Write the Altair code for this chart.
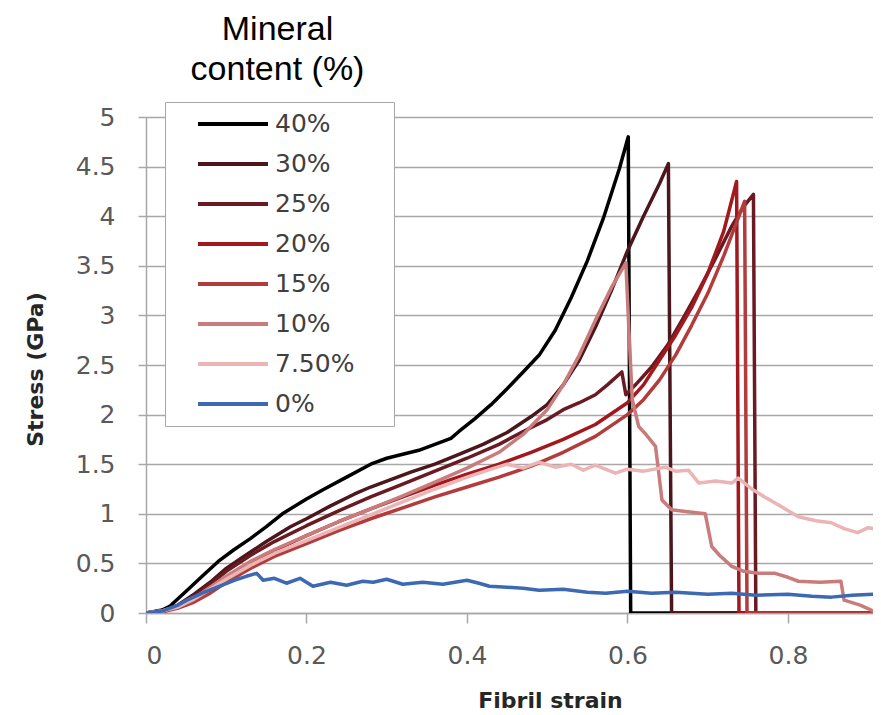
import altair as alt
import pandas as pd

series_names = ["40%", "30%", "25%", "20%", "15%", "10%", "7.50%", "0%"]
series_colors = ["#000000", "#4b161c", "#6a1a22", "#a3181c", "#b23b3b",
                 "#c97c7c", "#ecb4b4", "#3d68b2"]

strain_40 = [0, 0.02, 0.03, 0.05, 0.07, 0.09, 0.11, 0.13, 0.15, 0.17, 0.2, 0.22, 0.25,
             0.28, 0.3, 0.32, 0.34, 0.36, 0.37, 0.38, 0.39, 0.41, 0.43, 0.45, 0.47,
             0.49, 0.51, 0.53, 0.55, 0.57, 0.59, 0.601, 0.604, 0.91]
stress_40 = [0, 0.03, 0.07, 0.22, 0.37, 0.52, 0.64, 0.75, 0.87, 1.0, 1.15, 1.24, 1.37,
             1.5, 1.56, 1.6, 1.64, 1.7, 1.73, 1.76, 1.83, 1.96, 2.1, 2.26, 2.43,
             2.6, 2.85, 3.18, 3.55, 3.98, 4.48, 4.8, 0.0, 0.0]

strain_30 = [0, 0.02, 0.04, 0.06, 0.08, 0.1, 0.12, 0.15, 0.18, 0.2, 0.23, 0.26, 0.28,
             0.3, 0.33, 0.36, 0.39, 0.42, 0.45, 0.48, 0.5, 0.52, 0.54, 0.56, 0.58,
             0.6, 0.62, 0.64, 0.651, 0.655, 0.91]
stress_30 = [0, 0.02, 0.08, 0.19, 0.31, 0.45, 0.56, 0.72, 0.87, 0.95, 1.08, 1.2, 1.27,
             1.33, 1.42, 1.5, 1.6, 1.7, 1.82, 1.98, 2.1, 2.3, 2.55, 2.88, 3.25,
             3.65, 4.0, 4.33, 4.53, 0.0, 0.0]

strain_25 = [0, 0.02, 0.04, 0.06, 0.08, 0.1, 0.13, 0.16, 0.2, 0.24, 0.28, 0.32, 0.36,
             0.4, 0.44, 0.47, 0.5, 0.52, 0.54, 0.56, 0.575, 0.593, 0.598, 0.61, 0.63,
             0.65, 0.67, 0.69, 0.71, 0.73, 0.745, 0.757, 0.76, 0.91]
stress_25 = [0, 0.02, 0.07, 0.17, 0.29, 0.42, 0.58, 0.72, 0.88, 1.03, 1.17, 1.3, 1.43,
             1.56, 1.7, 1.83, 1.95, 2.05, 2.12, 2.2, 2.3, 2.43, 2.2, 2.3, 2.48,
             2.7, 2.98, 3.27, 3.58, 3.9, 4.1, 4.22, 0.0, 0.0]

strain_20 = [0, 0.02, 0.04, 0.06, 0.08, 0.1, 0.13, 0.16, 0.2, 0.24, 0.28, 0.32, 0.36,
             0.4, 0.44, 0.48, 0.52, 0.56, 0.6, 0.62, 0.64, 0.66, 0.68, 0.7, 0.72,
             0.736, 0.739, 0.91]
stress_20 = [0, 0.02, 0.06, 0.14, 0.24, 0.36, 0.5, 0.63, 0.78, 0.92, 1.05, 1.17, 1.29,
             1.4, 1.5, 1.62, 1.75, 1.9, 2.12, 2.3, 2.55, 2.8, 3.08, 3.42, 3.85,
             4.35, 0.0, 0.0]

strain_15 = [0, 0.02, 0.04, 0.06, 0.08, 0.1, 0.13, 0.16, 0.2, 0.24, 0.28, 0.32, 0.36,
             0.4, 0.44, 0.48, 0.52, 0.56, 0.6, 0.62, 0.64, 0.66, 0.68, 0.7, 0.72,
             0.746, 0.749, 0.91]
stress_15 = [0, 0.01, 0.05, 0.11, 0.2, 0.31, 0.45, 0.57, 0.7, 0.83, 0.95, 1.06, 1.17,
             1.27, 1.37, 1.48, 1.62, 1.78, 2.0, 2.15, 2.35, 2.6, 2.9, 3.22, 3.6,
             4.15, 0.0, 0.0]

strain_10 = [0, 0.02, 0.04, 0.06, 0.08, 0.1, 0.13, 0.16, 0.2, 0.24, 0.28, 0.32, 0.36,
             0.4, 0.44, 0.47, 0.5, 0.52, 0.54, 0.56, 0.58, 0.598, 0.602, 0.606, 0.614,
             0.622, 0.628, 0.635, 0.643, 0.655, 0.675, 0.697, 0.705, 0.715, 0.73,
             0.745, 0.763, 0.784, 0.8, 0.813, 0.84, 0.866, 0.87, 0.89, 0.912]
stress_10 = [0, 0.02, 0.07, 0.15, 0.26, 0.37, 0.52, 0.64, 0.78, 0.92, 1.05, 1.18, 1.32,
             1.46, 1.62, 1.8, 2.05, 2.3, 2.6, 2.95, 3.28, 3.53, 2.82, 2.15, 1.88,
             1.81, 1.75, 1.68, 1.14, 1.04, 1.02, 1.0, 0.67, 0.58, 0.47,
             0.42, 0.4, 0.4, 0.36, 0.32, 0.31, 0.32, 0.13, 0.08, 0.0]

strain_75 = [0, 0.02, 0.04, 0.06, 0.08, 0.1, 0.13, 0.16, 0.2, 0.24, 0.28, 0.32, 0.36,
             0.4, 0.43, 0.45, 0.47, 0.49, 0.51, 0.53, 0.545, 0.56, 0.585, 0.6, 0.62,
             0.647, 0.66, 0.676, 0.689, 0.71, 0.73, 0.738, 0.755, 0.771, 0.79, 0.813,
             0.835, 0.854, 0.87, 0.887, 0.9, 0.913]
stress_75 = [0, 0.02, 0.06, 0.14, 0.24, 0.34, 0.48, 0.6, 0.73, 0.86, 0.99, 1.12, 1.25,
             1.37, 1.45, 1.5, 1.46, 1.52, 1.47, 1.5, 1.44, 1.49, 1.41, 1.45, 1.43,
             1.47, 1.43, 1.44, 1.31, 1.33, 1.31, 1.36, 1.25, 1.17, 1.08, 0.97,
             0.93, 0.91, 0.85, 0.81, 0.86, 0.84]

strain_0 = [0, 0.02, 0.04, 0.051, 0.07, 0.092, 0.11, 0.125, 0.138, 0.146, 0.16, 0.175,
            0.192, 0.208, 0.23, 0.25, 0.27, 0.283, 0.3, 0.32, 0.345, 0.37, 0.4, 0.415,
            0.428, 0.45, 0.47, 0.49, 0.52, 0.55, 0.573, 0.6, 0.63, 0.66, 0.7, 0.73,
            0.76, 0.8, 0.83, 0.854, 0.88, 0.913]
stress_0 = [0, 0.02, 0.08, 0.13, 0.2, 0.27, 0.33, 0.37, 0.4, 0.33, 0.35, 0.3,
            0.35, 0.27, 0.31, 0.28, 0.32, 0.31, 0.34, 0.29, 0.31, 0.29, 0.33, 0.3,
            0.27, 0.26, 0.25, 0.23, 0.24, 0.21, 0.2, 0.22, 0.2, 0.21, 0.19, 0.2,
            0.18, 0.19, 0.17, 0.16, 0.18, 0.19]

series_x = [strain_40, strain_30, strain_25, strain_20, strain_15, strain_10, strain_75, strain_0]
series_y = [stress_40, stress_30, stress_25, stress_20, stress_15, stress_10, stress_75, stress_0]

x_ticks = [0, 0.2, 0.4, 0.6, 0.8]
y_ticks = [0, 0.5, 1, 1.5, 2, 2.5, 3, 3.5, 4, 4.5, 5]

rows = []
for name, xs, ys in zip(series_names, series_x, series_y):
    for i, (a, b) in enumerate(zip(xs, ys)):
        rows.append({"series": name, "strain": a, "stress": b, "idx": i})
df = pd.DataFrame(rows)

XMAX = 0.906
GRID = "#a8a8a8"

chart = alt.Chart(df).mark_line(strokeWidth=3.5, clip=True, strokeJoin="round").encode(
    x=alt.X("strain:Q",
            scale=alt.Scale(domain=[0, XMAX], nice=False, zero=False),
            axis=alt.Axis(values=x_ticks, format="~g", title="Fibril strain", grid=False,
                          tickSize=10, labelPadding=20, titleX=404, titleY=87,
                          titleBaseline="middle", titleAlign="center")),
    y=alt.Y("stress:Q",
            scale=alt.Scale(domain=[0, 5], nice=False),
            axis=alt.Axis(values=y_ticks, format="~g", title="Stress (GPa)", grid=True,
                          tickSize=8, labelPadding=23, titleX=-111, titleY=252,
                          titleAngle=270, titleBaseline="middle", titleAlign="center")),
    color=alt.Color("series:N",
                    scale=alt.Scale(domain=series_names, range=series_colors),
                    sort=series_names,
                    legend=alt.Legend(title="MM", titleOrient="right", titleOpacity=0,
                                      titleFontSize=12, titlePadding=18,
                                      orient="none", legendX=19, legendY=-15,
                                      symbolType="stroke", symbolSize=4900,
                                      symbolStrokeWidth=4, clipHeight=40, rowPadding=0,
                                      padding=2, strokeColor="#a6a6a6", fillColor="white",
                                      symbolOffset=29, labelOffset=5,
                                      labelFont="DejaVu Sans", labelFontSize=25,
                                      labelColor="#404040")),
    order=alt.Order("idx:Q"),
).properties(
    width=727, height=496,
    autosize=alt.AutoSizeParams(type="none"),
    padding={"left": 138, "top": 109, "right": 0, "bottom": 98},
    title=alt.TitleParams(text=["Mineral", "content (%)"], anchor="middle", dx=-232,
                          offset=15, font="Liberation Sans", fontSize=34,
                          fontWeight="normal", color="#000000", lineHeight=40),
).configure_axis(
    domainColor=GRID, domainWidth=1.5, tickColor=GRID, tickWidth=1.5,
    gridColor=GRID, gridWidth=1.5,
    labelFont="DejaVu Sans", labelFontSize=25, labelColor="#595959",
    titleFont="DejaVu Sans", titleFontSize=22, titleFontWeight="bold", titleColor="#262626",
).configure_view(strokeWidth=0)

chart.save("out.html", embed_options={"renderer": "svg", "actions": False})
